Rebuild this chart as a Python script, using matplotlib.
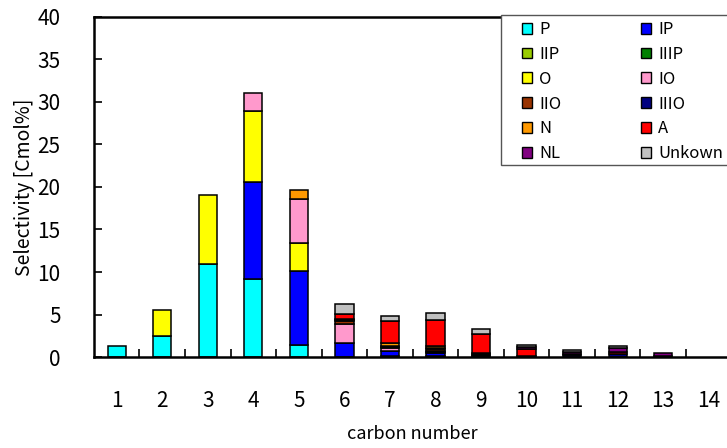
import numpy as np
import matplotlib
matplotlib.use("Agg")
import matplotlib.pyplot as plt
from matplotlib.patches import Patch, Rectangle

plt.rcParams['font.family'] = ['Noto Sans CJK JP', 'DejaVu Sans']

carbon = np.arange(1, 15)

# selectivity [Cmol%] per carbon number, one list per product group
P       = [1.25, 2.45, 11.0, 9.15, 1.4, 0.0, 0.15, 0.1, 0.1, 0.0, 0.0, 0.0, 0.0, 0.0]
IP      = [0.0, 0.0, 0.0, 11.4, 8.75, 1.6, 0.5, 0.35, 0.0, 0.0, 0.0, 0.0, 0.0, 0.0]
IIP     = [0.0, 0.0, 0.0, 0.0, 0.0, 0.0, 0.0, 0.0, 0.0, 0.0, 0.0, 0.0, 0.0, 0.0]
IIIP    = [0.0, 0.0, 0.0, 0.0, 0.0, 0.1, 0.1, 0.1, 0.0, 0.0, 0.0, 0.0, 0.0, 0.0]
O       = [0.0, 3.05, 8.0, 8.4, 3.25, 0.0, 0.0, 0.1, 0.0, 0.0, 0.0, 0.0, 0.0, 0.0]
IO      = [0.0, 0.0, 0.0, 2.1, 5.15, 2.2, 0.3, 0.1, 0.0, 0.0, 0.0, 0.0, 0.0, 0.0]
IIO     = [0.0, 0.0, 0.0, 0.0, 0.0, 0.3, 0.15, 0.2, 0.15, 0.05, 0.0, 0.0, 0.0, 0.0]
IIIO    = [0.0, 0.0, 0.0, 0.0, 0.0, 0.2, 0.1, 0.15, 0.15, 0.1, 0.2, 0.35, 0.1, 0.0]
N       = [0.0, 0.0, 0.0, 0.0, 1.05, 0.1, 0.3, 0.2, 0.1, 0.0, 0.0, 0.0, 0.0, 0.0]
A       = [0.0, 0.0, 0.0, 0.0, 0.0, 0.6, 2.65, 3.0, 2.2, 0.85, 0.15, 0.25, 0.0, 0.0]
NL      = [0.0, 0.0, 0.0, 0.0, 0.0, 0.0, 0.0, 0.0, 0.0, 0.2, 0.25, 0.5, 0.4, 0.0]
Unknown = [0.0, 0.0, 0.0, 0.0, 0.0, 1.1, 0.6, 0.85, 0.55, 0.25, 0.2, 0.15, 0.0, 0.0]

names = ['P', 'IP', 'IIP', 'IIIP', 'O', 'IO', 'IIO', 'IIIO', 'N', 'A', 'NL', 'Unkown']
series = [P, IP, IIP, IIIP, O, IO, IIO, IIIO, N, A, NL, Unknown]
colors = ['#00FFFF', '#0000FF', '#99CC00', '#008000', '#FFFF00', '#FF99CC',
          '#993300', '#000080', '#FF9900', '#FF0000', '#800080', '#C0C0C0']

fig = plt.figure(figsize=(7.27, 4.48), dpi=100)
ax = fig.add_axes([0.1292, 0.2031, 0.877, 0.759])

bottom = np.zeros(len(carbon))
for vals, c in zip(series, colors):
    vals = np.array(vals)
    mask = vals > 0
    ax.bar(carbon[mask], vals[mask], width=0.4, bottom=bottom[mask],
           color=c, edgecolor='black', linewidth=1.1)
    bottom += vals

ax.set_xlim(0.5, 14.5)
ax.set_ylim(0, 40)
ax.set_yticks(np.arange(0, 41, 5))
ax.set_xticks(carbon)
ax.set_xticks(np.arange(1.5, 14, 1), minor=True)
ax.tick_params(axis='x', which='major', length=0, pad=24, labelsize=15)
ax.tick_params(axis='x', which='minor', direction='in', length=6, width=1.2)
ax.tick_params(axis='y', direction='in', length=6, width=1.2, pad=24, labelsize=15)
for s in ax.spines.values():
    s.set_linewidth(1.8)

ax.set_xlabel('carbon number', fontsize=13, labelpad=9)
ax.set_ylabel('Selectivity [Cmol%]', fontsize=14, labelpad=2)

# legend box (runs past the right edge, as in the original)
fig.add_artist(Rectangle((501 / 727, 1 - 165 / 448), 0.4, 150 / 448,
                         transform=fig.transFigure, facecolor='white',
                         edgecolor='#555555', linewidth=1.0, zorder=3))

handles = [Patch(facecolor=c, edgecolor='black', linewidth=1.0) for c in colors]
order = [0, 2, 4, 6, 8, 10, 1, 3, 5, 7, 9, 11]
leg = fig.legend([handles[i] for i in order], [names[i] for i in order],
                 ncol=2, loc='upper left',
                 bbox_to_anchor=(522 / 727, 1 - 21 / 448),
                 bbox_transform=fig.transFigure, frameon=False,
                 fontsize=12, handlelength=0.62, handleheight=0.62,
                 handletextpad=0.4, labelspacing=0.47, borderpad=0,
                 columnspacing=4.8, borderaxespad=0)
leg.set_zorder(5)

fig.savefig('out.png', dpi=100)
